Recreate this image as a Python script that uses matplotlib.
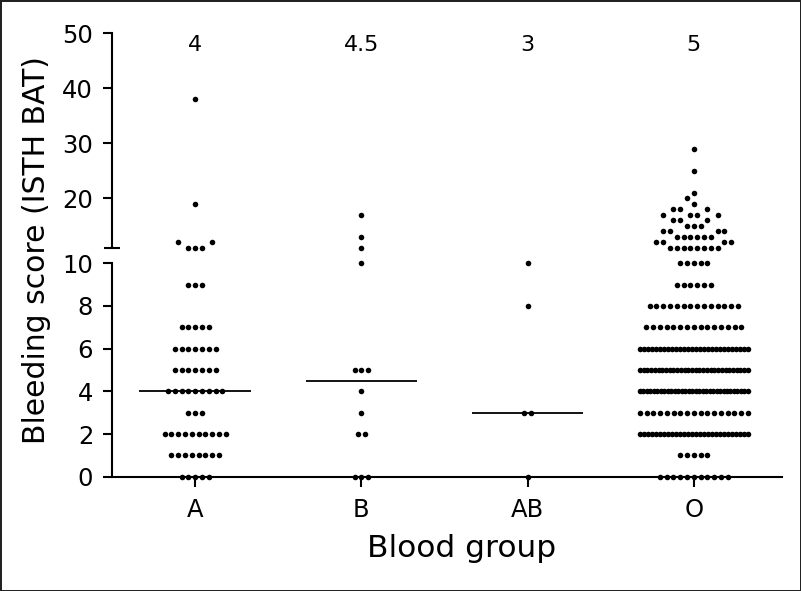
import numpy as np
import matplotlib
matplotlib.use('Agg')
import matplotlib.pyplot as plt

# Data: bleeding score per blood group (score value -> number of subjects)
groups = ['A', 'B', 'AB', 'O']
medians = [4, 4.5, 3, 5]
median_labels = ['4', '4.5', '3', '5']

a_scores = [0, 1, 2, 3, 4, 5, 6, 7, 9, 11, 12, 19, 38]
a_counts = [5, 8, 10, 3, 9, 7, 7, 5, 3, 3, 2, 1, 1]

b_scores = [0, 2, 3, 4, 5, 10, 11, 13, 17]
b_counts = [3, 2, 1, 1, 3, 1, 1, 1, 1]

ab_scores = [0, 3, 8, 10]
ab_counts = [1, 2, 1, 1]

o_scores = [0, 1, 2, 3, 4, 5, 6, 7, 8, 9, 10,
            11, 12, 13, 14, 15, 16, 17, 18, 19, 20, 21, 25, 29]
o_counts = [11, 5, 28, 17, 32, 30, 28, 15, 14, 6, 5,
            8, 4, 6, 4, 3, 3, 4, 3, 1, 1, 1, 1, 1]

all_scores = [a_scores, b_scores, ab_scores, o_scores]
all_counts = [a_counts, b_counts, ab_counts, o_counts]

LO = (0, 10)     # lower segment of the broken axis
HI = (11, 50)    # upper segment
XLIM = (-0.5, 3.53)

plt.rcParams['font.family'] = ['DejaVu Sans']
fig = plt.figure(figsize=(8.01, 5.91), dpi=100)
fig.patch.set_edgecolor('#222222')
fig.patch.set_linewidth(2)

ax_lo = fig.add_axes([0.1398, 0.1934, 0.8365, 0.3611])
ax_hi = fig.add_axes([0.1398, 0.5809, 0.8365, 0.3628])

# pixel scales, used to lay out the dots like a dot plot
fw, fh = fig.get_size_inches() * fig.dpi
px_x = 0.8365 * fw / (XLIM[1] - XLIM[0])
px_lo = 0.3611 * fh / (LO[1] - LO[0])
px_hi = 0.3628 * fh / (HI[1] - HI[0])


def ypix(v):
    if v <= LO[1]:
        return v * px_lo
    return 0.3875 * fh + (v - HI[0]) * px_hi


DOT = 6.8      # px between neighbouring dots
MAXW = 108.0   # px max width of a row
YGAP = 7.0     # rows closer than this must not overlap horizontally


def swarm(scores, counts):
    placed = []
    xs_out, ys_out = [], []
    for s, n in sorted(zip(scores, counts)):
        y = ypix(s)
        step = min(DOT, MAXW / (n - 1)) if n > 1 else DOT
        half = 0.5 if n % 2 == 0 else 0.0
        slots = sorted([(k + half) * step for k in range(-40, 41)],
                       key=lambda v: (abs(v), v))
        row = []
        for xs in slots:
            if len(row) == n:
                break
            ok = all(abs(xs - px) >= DOT * 0.95 or abs(y - py) >= YGAP
                     for px, py in placed)
            if ok:
                row.append(xs)
        placed += [(x, y) for x in row]
        xs_out += row
        ys_out += [s] * len(row)
    return np.array(xs_out), np.array(ys_out)


for i, (sc, ct) in enumerate(zip(all_scores, all_counts)):
    dx, vals = swarm(sc, ct)
    x = i + dx / px_x
    lo = vals <= LO[1]
    ax_lo.scatter(x[lo], vals[lo], s=16, color='black', linewidths=0,
                  clip_on=False, zorder=3)
    ax_hi.scatter(x[~lo], vals[~lo], s=16, color='black', linewidths=0,
                  clip_on=False, zorder=3)
    ax_lo.hlines(medians[i], i - 0.335, i + 0.335, color='black', lw=1.3, zorder=4)
    ax_hi.text(i, 47.9, median_labels[i], ha='center', va='center', fontsize=16)

for ax in (ax_lo, ax_hi):
    ax.set_xlim(*XLIM)
    for side in ('top', 'right'):
        ax.spines[side].set_visible(False)
    ax.spines['left'].set_linewidth(1.5)
    ax.tick_params(axis='y', direction='out', length=6.5, width=1.5,
                   labelsize=17.5, pad=7)
    ax.tick_params(axis='y', which='minor', direction='inout', length=12,
                   width=1.5)

ax_lo.set_ylim(*LO)
ax_lo.set_yticks([0, 2, 4, 6, 8, 10])
ax_lo.set_yticks([10], minor=True)
ax_lo.spines['bottom'].set_linewidth(1.5)
ax_lo.set_xticks(range(len(groups)))
ax_lo.set_xticklabels(groups)
ax_lo.tick_params(axis='x', direction='out', length=7, width=1.5,
                  labelsize=17.5, pad=8)

ax_hi.set_ylim(*HI)
ax_hi.set_yticks([20, 30, 40, 50])
ax_hi.set_yticks([11], minor=True)
ax_hi.spines['bottom'].set_visible(False)
ax_hi.set_xticks([])

ax_lo.set_xlabel('Blood group', fontsize=22.5)
ax_lo.xaxis.set_label_coords(0.521, -0.337)
ax_lo.xaxis.label.set_va('center')

fig.text(37 / 801, 1 - 250 / 591, 'Bleeding score (ISTH BAT)', rotation=90,
         ha='center', va='center', fontsize=21.5)

fig.savefig('out.png', dpi=100, edgecolor=fig.get_edgecolor())
